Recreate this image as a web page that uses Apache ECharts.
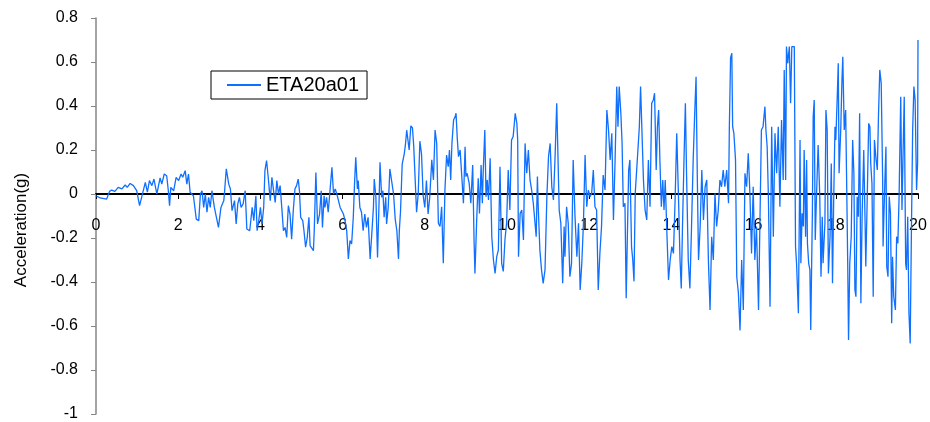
<!DOCTYPE html>
<html>
<head>
<meta charset="utf-8">
<script src="https://cdn.jsdelivr.net/npm/echarts@6/dist/echarts.min.js"></script>
<style>
  html, body { margin: 0; padding: 0; background: #fff; }
  #chart { width: 930px; height: 422px; }
</style>
</head>
<body>
<div id="chart"></div>
<script>
// time (s) and acceleration (g)
const times = [
  0.00, 0.10, 0.26, 0.33, 0.38, 0.46, 0.54, 0.63, 0.71, 0.76, 0.83, 0.91, 0.99, 1.06, 1.11, 1.20, 1.25, 1.30, 1.36, 1.41,
  1.48, 1.52, 1.56, 1.60, 1.66, 1.72, 1.76, 1.79, 1.82, 1.89, 1.95, 2.01, 2.07, 2.11, 2.17, 2.21, 2.25, 2.29, 2.37, 2.44,
  2.50, 2.54, 2.58, 2.62, 2.66, 2.70, 2.74, 2.78, 2.82, 2.88, 2.93, 2.98, 3.04, 3.11, 3.13, 3.17, 3.23, 3.27, 3.31, 3.37,
  3.41, 3.45, 3.49, 3.53, 3.58, 3.63, 3.67, 3.74, 3.80, 3.84, 3.89, 3.92, 3.96, 4.00, 4.04, 4.08,
  4.11, 4.15, 4.19, 4.24, 4.28, 4.32, 4.36, 4.40, 4.44, 4.48, 4.52, 4.56, 4.60, 4.64, 4.68, 4.72, 4.76, 4.80, 4.84, 4.88,
  4.92, 4.95, 4.98, 5.03, 5.06, 5.10, 5.14, 5.18, 5.21, 5.25, 5.29, 5.31, 5.35, 5.39, 5.44, 5.48, 5.51, 5.55, 5.57, 5.61,
  5.65, 5.70, 5.74, 5.78, 5.82, 5.86, 5.90, 5.94, 5.98, 6.02, 6.06, 6.10, 6.14, 6.18, 6.22, 6.26, 6.29, 6.32, 6.36, 6.38,
  6.42, 6.46, 6.50, 6.54, 6.58, 6.62, 6.67, 6.71, 6.75, 6.77, 6.81, 6.85, 6.89, 6.91, 6.95, 6.98, 7.01, 7.05, 7.07, 7.11,
  7.15, 7.19, 7.24, 7.28, 7.32, 7.36, 7.38, 7.41, 7.45, 7.50, 7.53, 7.56, 7.62, 7.66, 7.70, 7.73, 7.80, 7.84, 7.88, 7.92,
  7.96, 8.00, 8.04, 8.08, 8.12,
  8.17, 8.21, 8.25, 8.29, 8.33, 8.37, 8.41, 8.45, 8.49, 8.53, 8.57, 8.60, 8.63, 8.66, 8.70, 8.74, 8.76, 8.79, 8.82, 8.86,
  8.90, 8.94, 8.98, 9.00, 9.03, 9.08, 9.12, 9.165, 9.20, 9.22, 9.26, 9.30, 9.33, 9.37, 9.40, 9.42, 9.46, 9.49, 9.52, 9.55,
  9.59, 9.63, 9.67, 9.71, 9.75, 9.79, 9.83, 9.87, 9.91, 9.95, 9.99, 10.03, 10.07, 10.11, 10.15, 10.20, 10.24, 10.26, 10.28, 10.32,
  10.36, 10.40, 10.44, 10.48, 10.52, 10.56, 10.60, 10.64, 10.71, 10.74, 10.76, 10.80, 10.84, 10.88, 10.925, 10.97, 11.01, 11.05, 11.09, 11.13,
  11.17, 11.21, 11.24, 11.27, 11.31, 11.355, 11.39, 11.41, 11.45, 11.49, 11.53, 11.57, 11.61, 11.655, 11.70, 11.74, 11.78, 11.82, 11.86, 11.90,
  11.94, 11.98, 12.02, 12.06, 12.10, 12.14, 12.18, 12.22,
  12.26, 12.30, 12.34, 12.385, 12.43, 12.47, 12.51, 12.55, 12.59, 12.63, 12.67, 12.70, 12.73, 12.77, 12.80, 12.83, 12.87, 12.90, 12.93, 12.96,
  12.99, 13.03, 13.06, 13.09, 13.12, 13.16, 13.19, 13.22, 13.25, 13.285, 13.32, 13.36, 13.40, 13.44, 13.48, 13.52, 13.56, 13.59, 13.63, 13.66,
  13.69, 13.72, 13.755, 13.79, 13.82, 13.85, 13.885, 13.93, 13.97, 14.01, 14.05, 14.09, 14.13, 14.17, 14.21, 14.24, 14.27, 14.31, 14.34, 14.37,
  14.41, 14.45, 14.49, 14.53, 14.57, 14.60, 14.63, 14.66, 14.70, 14.74, 14.78, 14.82, 14.86, 14.90, 14.94, 14.98, 15.02, 15.06, 15.10, 15.14,
  15.18, 15.22, 15.26, 15.30, 15.345, 15.39, 15.41, 15.44, 15.47, 15.49, 15.52, 15.56, 15.59, 15.63, 15.67, 15.71, 15.75, 15.79, 15.83, 15.87,
  15.91, 15.95, 15.99, 16.03, 16.07, 16.12,
  16.15, 16.19, 16.23, 16.275, 16.30, 16.33, 16.36, 16.40, 16.44, 16.48, 16.52, 16.56, 16.60, 16.64, 16.68, 16.72, 16.745, 16.78, 16.80, 16.83,
  16.87, 16.90, 16.93, 16.96, 16.99, 17.02, 17.045, 17.09, 17.13, 17.15, 17.18, 17.21, 17.23, 17.265, 17.29, 17.31, 17.34, 17.37, 17.39, 17.43,
  17.45, 17.475, 17.50, 17.53, 17.57, 17.61, 17.64, 17.67, 17.69, 17.735, 17.76, 17.79, 17.82, 17.86, 17.89, 17.92, 17.95, 17.98, 18.00, 18.035,
  18.06, 18.08, 18.12, 18.15, 18.17, 18.205, 18.24, 18.26, 18.29, 18.31, 18.34, 18.375, 18.41, 18.44, 18.465, 18.49, 18.52, 18.55, 18.58, 18.61,
  18.64, 18.68, 18.71, 18.73, 18.765, 18.80, 18.83, 18.85, 18.88, 18.91, 18.94, 18.98, 19.01, 19.04, 19.07, 19.105, 19.14, 19.15, 19.19, 19.22,
  19.24, 19.27, 19.30, 19.33, 19.36, 19.38, 19.41, 19.45, 19.48, 19.51, 19.54, 19.58, 19.61, 19.64, 19.665, 19.70, 19.72, 19.75, 19.78, 19.81,
  19.84, 19.87, 19.90, 19.93, 19.965, 19.99, 20.00
];
const accel = [
  -0.008, -0.018, -0.023, 0.012, 0.018, 0.012, 0.030, 0.023, 0.041, 0.030, 0.048, 0.038, 0.015, -0.053, -0.015, 0.053, 0.008, 0.061, 0.038, 0.068,
  0.000, -0.008, 0.073, 0.045, 0.091, 0.083, 0.015, -0.053, 0.030, 0.015, 0.076, 0.061, 0.091, 0.076, 0.106, 0.045, 0.091, 0.008, -0.008, -0.114,
  -0.121, 0.000, 0.015, -0.061, 0.000, -0.083, -0.015, -0.061, 0.015, -0.061, -0.106, -0.152, -0.061, -0.030, 0.015, 0.114, 0.045, 0.023, -0.076, -0.030,
  -0.136, -0.045, -0.015, -0.061, -0.045, 0.015, -0.159, -0.167, -0.061, -0.121, -0.008, -0.167, -0.121, -0.061, -0.136, -0.061,
  0.106, 0.152, 0.076, -0.030, 0.076, 0.015, -0.038, 0.061, 0.000, 0.038, -0.061, -0.167, -0.152, -0.197, -0.053, -0.091, -0.205, -0.076, 0.023, 0.038,
  0.068, 0.015, -0.106, -0.121, -0.167, -0.242, -0.197, -0.106, -0.235, -0.242, -0.258, -0.167, 0.098, -0.136, -0.091, 0.015, -0.152, -0.008, -0.061, -0.015,
  -0.083, 0.030, 0.121, 0.000, 0.023, 0.000, -0.030, -0.061, -0.076, -0.091, -0.121, -0.167, -0.295, -0.212, -0.227, -0.106, 0.045, 0.167, 0.023, 0.061,
  -0.061, -0.083, -0.167, -0.091, -0.152, -0.106, -0.295, -0.182, -0.061, 0.068, -0.015, -0.288, -0.015, 0.144, -0.015, 0.015, -0.106, -0.015, -0.136, -0.061,
  0.114, 0.121, 0.000, -0.114, -0.167, -0.295, -0.167, -0.076, 0.136, 0.182, 0.227, 0.290, 0.200, 0.310, 0.300, 0.220, -0.083, 0.000, 0.240, 0.182,
  -0.008, -0.061, 0.061, -0.091, -0.015,
  0.155, 0.064, 0.291, 0.230, -0.133, -0.148, -0.058, -0.315, 0.018, 0.177, 0.124, 0.200, 0.064, 0.230, 0.336, 0.352, 0.367, 0.253, 0.170, 0.200,
  0.079, -0.042, 0.215, 0.079, 0.094, 0.048, -0.042, 0.132, -0.224, -0.361, -0.133, 0.071, -0.088, 0.132, -0.042, 0.094, 0.291, -0.012, 0.064, -0.027,
  0.162, -0.194, -0.300, -0.361, -0.285, -0.255, 0.124, -0.315, -0.352, -0.209, -0.133, 0.109, -0.073, 0.245, 0.261, 0.367, 0.321, 0.245, -0.285, -0.088,
  -0.073, -0.209, 0.230, 0.094, 0.200, 0.064, 0.018, -0.042, -0.194, 0.079, -0.058, -0.255, -0.345, -0.406, -0.345, -0.012, 0.170, 0.230, 0.033, -0.027,
  0.170, 0.412, 0.170, -0.073, -0.133, -0.406, -0.148, -0.285, -0.058, -0.133, -0.376, -0.315, 0.155, -0.103, -0.285, -0.133, -0.436, -0.315, -0.133, 0.177,
  -0.058, 0.018, -0.012, 0.003, 0.109, -0.058, -0.073, -0.436,
  -0.270, -0.148, 0.086, 0.018, 0.382, 0.291, 0.155, 0.276, -0.118, 0.155, 0.488, 0.306, 0.488, 0.367, 0.230, -0.058, -0.042, -0.474, -0.179, 0.109,
  0.155, -0.239, -0.300, -0.397, 0.003, 0.124, 0.215, 0.306, 0.488, 0.495, 0.064, -0.073, -0.118, 0.155, -0.058, 0.412, 0.427, 0.458, 0.109, 0.306,
  0.382, 0.155, -0.058, 0.064, -0.073, 0.064, -0.148, -0.391, -0.300, -0.239, -0.270, -0.027, 0.276, 0.003, -0.300, -0.429, -0.148, 0.185, 0.412, 0.079,
  -0.300, -0.429, -0.148, 0.155, 0.382, 0.533, 0.079, -0.300, -0.148, 0.109, -0.118, 0.033, 0.064, -0.300, -0.527, -0.194, -0.300, 0.003, -0.148, -0.073,
  0.064, 0.033, 0.109, 0.033, 0.109, -0.042, 0.306, 0.620, 0.640, 0.306, 0.276, 0.155, -0.376, -0.450, -0.620, -0.300, -0.527, 0.094, 0.033, 0.185,
  0.003, -0.270, 0.033, -0.300, -0.148, -0.527,
  -0.527, 0.291, 0.306, 0.397, 0.291, 0.215, -0.012, -0.512, 0.306, -0.194, 0.276, 0.094, 0.306, -0.058, 0.336, 0.064, 0.564, 0.064, 0.670, 0.594,
  0.670, 0.412, 0.670, 0.670, 0.670, -0.239, -0.315, -0.542, 0.245, -0.315, -0.088, -0.148, 0.200, -0.194, 0.155, -0.224, -0.315, -0.345, -0.618, -0.088,
  0.352, 0.427, -0.209, -0.012, 0.223, -0.012, -0.376, -0.103, -0.315, -0.133, 0.382, 0.291, -0.361, -0.194, 0.139, -0.406, -0.012, 0.306, 0.245, 0.442,
  0.594, 0.094, 0.291, 0.518, 0.624, 0.291, 0.382, 0.109, -0.315, -0.664, -0.315, -0.194, 0.245, 0.094, -0.436, -0.467, -0.012, -0.103, 0.367, -0.497,
  -0.103, 0.200, -0.103, -0.330, -0.012, 0.321, 0.306, 0.139, 0.048, -0.467, 0.245, 0.155, 0.109, 0.367, 0.564, 0.503, 0.064, -0.239, 0.033, 0.215,
  -0.330, -0.376, -0.012, -0.088, -0.588, -0.285, -0.467, -0.527, -0.194, -0.224, -0.012, 0.442, -0.073, 0.215, 0.442, -0.315, -0.345, -0.103, -0.542, -0.679,
  -0.164, 0.291, 0.488, 0.427, 0.018, 0.139, 0.700
];
const seriesName = 'ETA20a01';
const xTicks = { min: 0, max: 20, step: 2 };
const yTicks = { min: -1, max: 0.8, step: 0.2 };

const points = times.map((t, i) => [t, accel[i]]);

const myChart = echarts.init(document.getElementById('chart'));
const option = {
  animation: false,
  backgroundColor: '#fff',
  grid: { left: 96, right: 12, top: 18, bottom: 8, containLabel: false, outerBoundsMode: 'none' },
  legend: {
    left: 211,
    top: 71,
    padding: [4, 8, 4, 16],
    borderColor: '#000',
    borderWidth: 1,
    backgroundColor: '#fff',
    itemWidth: 34,
    itemHeight: 2,
    icon: 'rect',
    textStyle: { fontFamily: 'Liberation Sans', fontSize: 20, color: '#000' },
    data: [seriesName]
  },
  graphic: [
    {
      type: 'text',
      x: 21,
      y: 230,
      rotation: Math.PI / 2,
      style: {
        text: 'Acceleration(g)',
        fontFamily: 'Liberation Sans',
        fontSize: 17,
        fill: '#000',
        align: 'center',
        verticalAlign: 'middle'
      }
    }
  ],
  xAxis: {
    type: 'value',
    min: xTicks.min,
    max: xTicks.max,
    interval: xTicks.step,
    position: 'bottom',
    // the axis sits on y = 0, which is 220px above the bottom of the plot
    offset: -220,
    axisLine: { show: true, onZero: false, lineStyle: { color: '#000', width: 2 } },
    axisTick: { show: true, length: 5, lineStyle: { color: '#000' } },
    axisLabel: {
      margin: 24,
      fontFamily: 'Liberation Sans',
      fontSize: 16,
      color: '#000',
      formatter: v => String(Math.round(v))
    },
    splitLine: { show: false }
  },
  yAxis: {
    type: 'value',
    min: yTicks.min,
    max: yTicks.max,
    interval: yTicks.step,
    axisLine: { show: true, onZero: false, lineStyle: { color: '#868686', width: 1.5 } },
    axisTick: { show: true, length: 5, lineStyle: { color: '#868686' } },
    axisLabel: {
      margin: 18,
      fontFamily: 'Liberation Sans',
      fontSize: 16,
      color: '#000',
      formatter: v => String(Math.round(v * 10) / 10)
    },
    splitLine: { show: false }
  },
  series: [
    {
      name: seriesName,
      type: 'line',
      data: points,
      showSymbol: false,
      symbol: 'none',
      color: '#0f6fff',
      lineStyle: { width: 1.3, color: '#0f6fff' },
      z: 1
    }
  ]
};
myChart.setOption(option);
window.addEventListener('resize', function () {
  myChart.resize();
});
</script>
</body>
</html>
